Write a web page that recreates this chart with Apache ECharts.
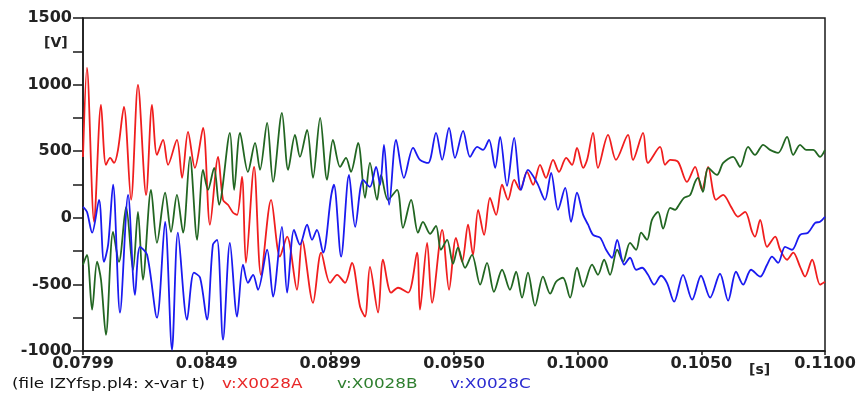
<!DOCTYPE html>
<html><head><meta charset="utf-8">
<script src="https://cdn.jsdelivr.net/npm/echarts@6/dist/echarts.min.js"></script>
<style>html,body{margin:0;padding:0;background:#fff}#c{width:859px;height:393px}</style>
</head><body><div id="c"></div>
<script>
// x tick labels (seconds)
const xTickLabels = ['0.0799','0.0849','0.0899','0.0950','0.1000','0.1050','0.1100'];
const tStartMs = 79.9, tEndMs = 110.0;

// v:X0028A (red) — time in ms, voltage in V
const redT = [79.90,80.06,80.35,80.63,80.83,81.00,81.16,81.32,81.56,81.85,82.13,82.46,82.70,82.90,83.15,83.35,83.71,83.92,84.16,84.44,84.77,85.05,85.38,85.58,85.78,85.99,86.15,86.35,86.51,86.84,87.12,87.53,87.89,88.18,88.58,88.79,89.23,89.56,89.92,90.21,90.53,90.81,91.14,91.34,91.54,91.87,92.07,92.40,92.68,93.09,93.45,93.57,93.86,94.06,94.47,94.75,95.03,95.28,95.52,95.72,95.93,96.17,96.41,96.66,96.90,97.14,97.39,97.63,97.91,98.16,98.44,98.68,98.97,99.21,99.50,99.74,99.94,100.19,100.35,100.59,100.79,101.20,101.52,102.01,102.21,102.62,102.82,103.31,103.51,103.72,104.04,104.40,104.73,105.01,105.26,105.58,105.87,106.19,106.47,106.76,107.04,107.16,107.37,107.65,107.98,108.18,108.46,108.71,108.99,109.19,109.48,109.80,110.00];
const redV = [457,1125,-30,848,398,450,412,510,832,135,998,172,848,472,585,398,585,300,645,375,675,-52,458,135,98,38,22,308,-338,382,-428,135,-292,-142,-540,-165,-638,-262,-488,-428,-488,-338,-668,-742,-368,-712,-315,-562,-525,-562,-262,-690,-188,-638,-90,-540,-150,-330,-52,-278,60,-128,150,22,248,135,285,210,345,248,398,300,435,345,450,398,525,375,435,638,375,622,435,622,435,638,412,532,398,435,420,270,382,210,382,135,172,82,8,45,-105,-142,-15,-218,-142,-240,-315,-262,-368,-442,-315,-502,-480];

// v:X0028B (green)
const greenT = [79.90,80.06,80.27,80.47,80.63,80.83,81.12,81.36,81.65,81.93,82.13,82.33,82.66,82.90,83.23,83.47,83.71,83.96,84.24,84.53,84.77,84.97,85.22,85.42,85.86,86.03,86.27,86.59,86.88,87.08,87.37,87.61,87.97,88.22,88.50,88.70,88.99,89.23,89.52,89.80,90.04,90.33,90.57,90.77,91.06,91.34,91.54,91.83,91.99,92.27,92.64,92.88,93.21,93.49,93.69,93.98,94.22,94.42,94.67,94.91,95.11,95.40,95.68,96.01,96.29,96.57,96.90,97.22,97.47,97.71,97.95,98.24,98.56,98.85,99.09,99.37,99.66,99.94,100.19,100.55,100.79,101.04,101.28,101.57,101.81,102.09,102.34,102.54,102.78,102.98,103.23,103.43,103.72,103.92,104.08,104.28,104.53,104.73,104.85,105.05,105.26,105.62,105.87,106.27,106.56,106.88,107.16,107.49,107.77,108.10,108.46,108.71,108.99,109.23,109.52,109.80,110.00];
const greenV = [-352,-278,-690,-330,-465,-878,-105,-330,82,-390,45,-465,210,-188,188,-105,172,-112,458,-165,360,210,375,98,638,210,638,345,562,360,712,270,788,360,622,458,660,300,750,285,585,382,450,345,562,150,412,135,322,135,210,-75,135,-112,-30,-120,-60,-240,-165,-345,-225,-375,-278,-502,-338,-555,-390,-540,-405,-600,-412,-660,-442,-570,-480,-450,-600,-375,-518,-352,-428,-315,-428,-240,-330,-188,-240,-112,-165,-15,45,-82,75,60,98,150,172,270,300,195,375,322,412,458,382,532,472,548,510,488,608,472,548,510,510,458,510];

// v:X0028C (blue)
const blueT = [79.90,80.06,80.27,80.55,80.75,80.92,81.12,81.40,81.73,82.01,82.21,82.50,82.90,83.23,83.51,83.75,84.12,84.40,84.65,84.93,85.17,85.34,85.58,85.86,86.15,86.39,86.59,86.80,87.00,87.37,87.61,87.97,88.18,88.46,88.70,88.99,89.19,89.39,89.64,89.96,90.08,90.37,90.69,90.94,91.26,91.54,91.79,91.95,92.11,92.32,92.60,92.92,93.29,93.57,93.90,94.22,94.47,94.75,94.99,95.32,95.60,95.89,96.13,96.37,96.62,96.82,97.10,97.39,97.67,97.95,98.32,98.64,98.89,99.17,99.46,99.70,99.94,100.19,100.39,100.59,100.88,101.12,101.36,101.57,101.85,102.09,102.34,102.58,102.82,103.07,103.35,103.59,103.88,104.24,104.61,104.97,105.34,105.74,106.07,106.39,106.68,107.00,107.37,107.65,107.85,108.10,108.38,108.66,108.99,109.31,109.60,109.80,110.00];
const blueV = [82,45,-112,135,-330,-202,248,-712,172,-578,-218,-278,-750,-30,-990,-112,-765,-412,-450,-765,-202,-165,-915,-188,-742,-352,-488,-428,-540,-240,-592,-68,-562,-90,-202,-52,-165,-90,-262,158,248,-292,322,-68,285,232,382,248,548,98,585,300,525,435,412,638,435,675,450,652,458,532,510,585,375,608,240,600,210,360,262,135,338,60,225,-30,188,22,-52,-128,-150,-240,-300,-165,-352,-300,-390,-375,-428,-502,-435,-488,-630,-428,-615,-435,-600,-420,-622,-405,-502,-390,-442,-352,-292,-338,-218,-240,-128,-112,-38,-30,8];

const seriesNames = ['v:X0028A','v:X0028B','v:X0028C'];
const seriesColors = ['#f01e1e','#226622','#1a1af0'];
const legendColors = ['#e82828','#2f7f2f','#2b2bd0'];

const span = tEndMs - tStartMs;
const xInterval = span / 6;
function pts(T, V){ return T.map((t,i)=>[t - tStartMs, V[i]]); }

const chart = echarts.init(document.getElementById('c'), null, {renderer:'canvas'});
const axisColor = '#1a1a1a';
const labelFont = {fontFamily:'DejaVu Sans', fontWeight:'bold', fontSize:16, color:'#222'};
const legendFont = '14px "DejaVu Sans"';
function legendText(text, x, fill){
  return {type:'text', x:x, y:377, scaleX:1.2, scaleY:1,
    style:{text:text, x:0, y:0, font:legendFont, fill:fill, textVerticalAlign:'top', textAlign:'left'}};
}
chart.setOption({
  animation:false,
  backgroundColor:'#fff',
  grid:{left:83, right:34, top:18, bottom:42, show:true, borderColor:axisColor, borderWidth:1.5, backgroundColor:'transparent'},
  xAxis:{type:'value', min:0, max:span, interval:xInterval,
    axisLine:{show:true, onZero:false, lineStyle:{color:axisColor, width:1.5}},
    axisTick:{show:true, inside:false, length:4, lineStyle:{color:axisColor, width:1.5}},
    splitLine:{show:false},
    axisLabel:Object.assign({margin:5, formatter:(v)=>xTickLabels[Math.round(v/xInterval)]||''}, labelFont)},
  yAxis:{type:'value', min:-1000, max:1500, interval:500,
    axisLine:{show:true, onZero:false, lineStyle:{color:axisColor, width:1.5}},
    axisTick:{show:true, length:10, lineStyle:{color:axisColor, width:1.5}},
    minorTick:{show:true, splitNumber:2, length:10, lineStyle:{color:axisColor, width:1.5}},
    splitLine:{show:false},
    axisLabel:Object.assign({margin:11, formatter:(v)=>String(v)}, labelFont)},
  series:[
    {name:seriesNames[0], type:'line', data:pts(redT,redV), showSymbol:false, smooth:0.3, lineStyle:{color:seriesColors[0], width:1.8}, itemStyle:{color:seriesColors[0]}},
    {name:seriesNames[1], type:'line', data:pts(greenT,greenV), showSymbol:false, smooth:0.3, lineStyle:{color:seriesColors[1], width:1.8}, itemStyle:{color:seriesColors[1]}},
    {name:seriesNames[2], type:'line', data:pts(blueT,blueV), showSymbol:false, smooth:0.3, lineStyle:{color:seriesColors[2], width:1.8}, itemStyle:{color:seriesColors[2]}}
  ],
  graphic:[
    {type:'text', left:44, top:36, style:{text:'[V]', font:'bold 14px "DejaVu Sans"', fill:'#222'}},
    {type:'text', left:749, top:363, style:{text:'[s]', font:'bold 14px "DejaVu Sans"', fill:'#222'}},
    legendText('(file IZYfsp.pl4: x-var t)', 12, '#111'),
    legendText(seriesNames[0], 222, legendColors[0]),
    legendText(seriesNames[1], 337, legendColors[1]),
    legendText(seriesNames[2], 450, legendColors[2])
  ]
});
</script></body></html>
